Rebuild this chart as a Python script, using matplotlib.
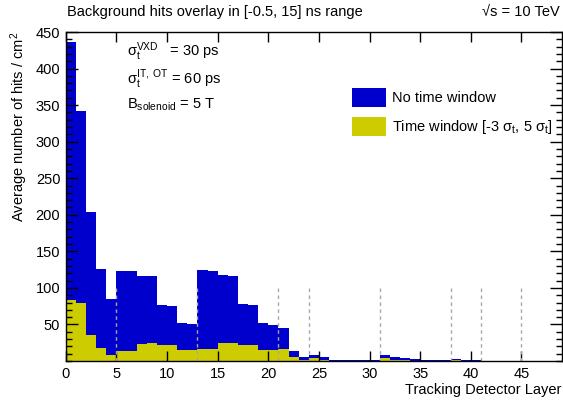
import numpy as np
import matplotlib
matplotlib.use("Agg")
import matplotlib.pyplot as plt
from matplotlib.patches import Patch
from matplotlib.ticker import MultipleLocator

# -------------------------------
# Data
# -------------------------------
layers = np.arange(49)

no_window = [436, 342, 204, 126, 85, 123, 123, 116, 116, 77,
             75, 52, 51, 124, 123, 118, 116, 78, 77, 52,
             49, 45, 14, 5, 8, 5, 2, 1.5, 1, 1,
             1, 8, 5, 4, 3, 2, 1, 1, 3, 2,
             1, 0.5, 0.5, 0.5, 0.5, 0.5, 0.5, 0.5, 0.5]

time_window = [83, 79, 36, 18, 8, 14, 14, 23, 24, 22,
               22, 15, 15, 16, 17, 24, 25, 22, 22, 15,
               15, 16, 5, 2, 4, 1, 0.5, 0.5, 0.3, 0.3,
               0.3, 4, 1.5, 1, 0.5, 0.5, 0.3, 0.3, 1, 0.5,
               0.3, 0.2, 0.2, 0.2, 0.2, 0.2, 0.2, 0.2, 0.2]

# detector boundaries
boundaries = [5, 13, 21, 24, 31, 38, 41, 45]

blue = "#0000cc"
yellow = "#cccc00"

# -------------------------------
# Style
# -------------------------------
plt.rcParams["font.family"] = ["Liberation Sans", "DejaVu Sans"]
plt.rcParams["mathtext.fontset"] = "custom"
plt.rcParams["mathtext.rm"] = "Liberation Sans"
plt.rcParams["mathtext.it"] = "Liberation Sans:italic"
plt.rcParams["mathtext.bf"] = "Liberation Sans:bold"
plt.rcParams["font.size"] = 10

fig = plt.figure(figsize=(5.63, 4.0), dpi=100)
ax = fig.add_axes([0.117, 0.0975, 0.881, 0.8225])

ax.bar(layers, no_window, width=1.0, align="edge", color=blue, linewidth=0)
ax.bar(layers, time_window, width=1.0, align="edge", color=yellow, linewidth=0)
ax.vlines(boundaries, 0, 100, colors="#a8a8a8", linestyles=(0, (2.5, 2.5)), linewidth=1.0)

ax.set_xlim(0, 49)
ax.set_ylim(0, 450)
ax.xaxis.set_major_locator(MultipleLocator(5))
ax.yaxis.set_minor_locator(MultipleLocator(10))
ax.set_yticks([50, 100, 150, 200, 250, 300, 350, 400, 450])

ax.tick_params(axis="both", which="both", direction="in", top=True, right=True, labelsize=10.5)
ax.tick_params(axis="x", which="major", length=7.5, width=1, pad=4)
ax.tick_params(axis="y", which="major", length=8.5, width=1, pad=4)
ax.tick_params(axis="y", which="minor", length=4.5, width=1)
for s in ax.spines.values():
    s.set_linewidth(1)

ax.set_xlabel("Tracking Detector Layer", loc="right", fontsize=10.5, labelpad=2)
ax.set_ylabel("Average number of hits / cm$^{2}$", loc="top", fontsize=10.5, labelpad=4)

fig.text(0.119, 0.97, "Background hits overlay in [-0.5, 15] ns range", fontsize=10.5,
         ha="left", va="center")
fig.text(0.995, 0.97, "\u221as = 10 TeV", fontsize=10.5, ha="right", va="center")

ax.text(0.123, 0.94, r"σ$_{\mathrm{t}}^{\mathrm{VXD}}$   = 30 ps", transform=ax.transAxes,
        fontsize=10.5, ha="left", va="center")
ax.text(0.123, 0.855, r"σ$_{\mathrm{t}}^{\mathrm{IT,\ OT}}$ = 60 ps", transform=ax.transAxes,
        fontsize=10.5, ha="left", va="center")
ax.text(0.123, 0.778, r"B$_{\mathrm{solenoid}}$ = 5 T", transform=ax.transAxes,
        fontsize=10.5, ha="left", va="center")

handles = [Patch(facecolor=blue, edgecolor="none"),
           Patch(facecolor=yellow, edgecolor="none")]
labels = ["No time window",
          r"Time window [-3 σ$_{\mathrm{t}}$, 5 σ$_{\mathrm{t}}$]"]
ax.legend(handles, labels, loc="upper left", bbox_to_anchor=(0.577, 0.83),
          frameon=False, borderpad=0, borderaxespad=0, handlelength=2.35,
          handleheight=1.6, handletextpad=0.4, labelspacing=0.7, fontsize=10.5)

fig.savefig("out.png", dpi=100)
